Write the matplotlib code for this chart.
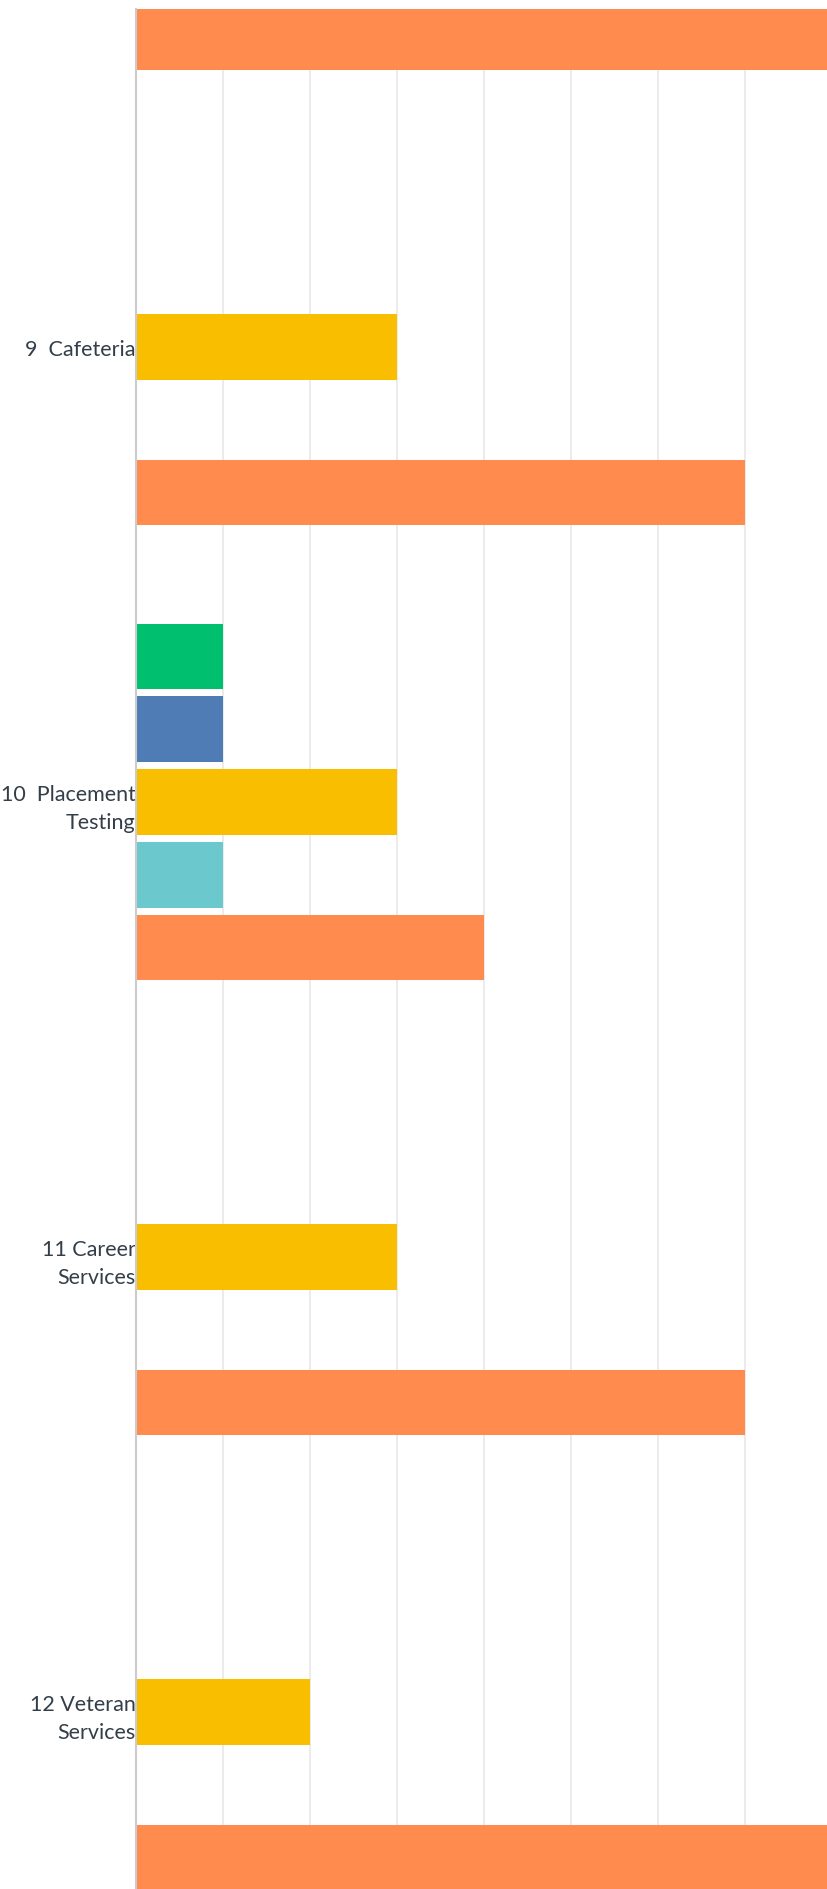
import matplotlib
matplotlib.use("Agg")
import matplotlib.pyplot as plt
import numpy as np

# questions 8..12 (8 only partly visible at the top)
positions = [8, 9, 10, 11, 12]
labels = ["", "9  Cafeteria", "10  Placement\nTesting", "11 Career\nServices", "12 Veteran\nServices"]

series_names = ["green", "blue", "yellow", "teal", "orange"]
colors = ["#00BF6F", "#507CB6", "#F9BE00", "#6BC8CD", "#FF8B4F"]
green = [0, 0, 1, 0, 0]
blue = [0, 0, 1, 0, 0]
yellow = [0, 3, 3, 3, 2]
teal = [0, 0, 1, 0, 0]
orange = [9, 7, 4, 7, 9]
series = [green, blue, yellow, teal, orange]

plt.rcParams['font.family'] = ['Lato', 'DejaVu Sans']

fig = plt.figure(figsize=(8.27, 18.9), dpi=100)
ax = fig.add_axes([135.5 / 827, 0, 1 - 135.5 / 827, 1 - 10 / 1890])

slot = 0.16
bar_h = 0.144
for i, (vals, c) in enumerate(zip(series, colors)):
    offs = (i - 2) * slot
    ax.barh(np.array(positions) + offs, vals, height=bar_h, color=c, zorder=3)

# ticks first, set_ticks would otherwise widen the view
ax.set_xticks(np.arange(0, 8))
ax.set_yticks(positions)
ax.set_yticklabels(labels, fontsize=15.5, color="#333e48", linespacing=1.5)
ax.set_xlim(0, (827 - 135.5) / 87.0)
ax.set_ylim(12.389, 8.257)
ax.tick_params(axis="y", length=0, pad=0)
ax.tick_params(axis="x", length=0, labelbottom=False)
ax.grid(axis="x", color="#e8e8e8", linewidth=1.2, zorder=0)
for s in ["top", "right", "bottom"]:
    ax.spines[s].set_visible(False)
ax.spines["left"].set_color("#cccccc")
ax.spines["left"].set_linewidth(1.5)
ax.spines["left"].set_zorder(4)

fig.savefig("out.png", dpi=100)
